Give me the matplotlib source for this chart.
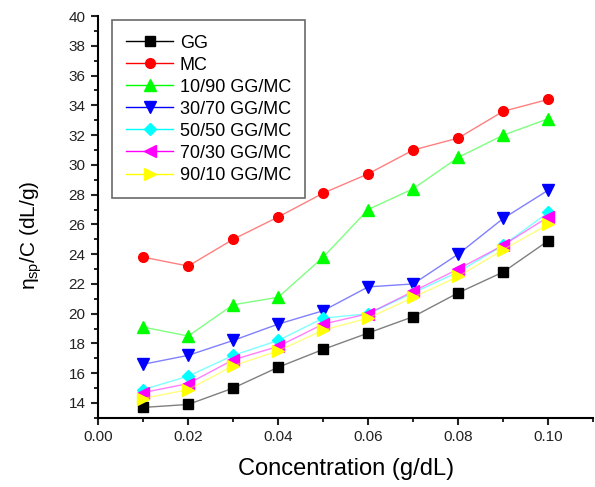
import numpy as np
import matplotlib
matplotlib.use("Agg")
import matplotlib.pyplot as plt
from matplotlib.ticker import MultipleLocator

plt.rcParams['font.family'] = ['Liberation Sans', 'DejaVu Sans']
plt.rcParams['mathtext.fontset'] = 'custom'
plt.rcParams['mathtext.rm'] = 'Liberation Sans'
plt.rcParams['mathtext.it'] = 'Liberation Sans'

# concentracion y viscosidad reducida
conc = [0.01, 0.02, 0.03, 0.04, 0.05, 0.06, 0.07, 0.08, 0.09, 0.10]
gg = [13.7, 13.9, 15.0, 16.4, 17.6, 18.7, 19.8, 21.4, 22.8, 24.9]
mc = [23.8, 23.2, 25.0, 26.5, 28.1, 29.4, 31.0, 31.8, 33.6, 34.4]
m10_90 = [19.1, 18.5, 20.6, 21.1, 23.8, 27.0, 28.4, 30.5, 32.0, 33.1]
m30_70 = [16.6, 17.2, 18.2, 19.3, 20.2, 21.8, 22.0, 24.0, 26.4, 28.3]
m50_50 = [14.9, 15.8, 17.2, 18.2, 19.7, 20.0, 21.4, 22.8, 24.6, 26.8]
m70_30 = [14.7, 15.3, 16.9, 17.8, 19.3, 20.0, 21.5, 23.0, 24.6, 26.5]
m90_10 = [14.3, 14.9, 16.5, 17.5, 18.9, 19.7, 21.1, 22.5, 24.3, 26.0]

series = [
    (gg, "GG", "#000000", "s", 7),
    (mc, "MC", "#ff0000", "o", 7),
    (m10_90, "10/90 GG/MC", "#00ff00", "^", 8),
    (m30_70, "30/70 GG/MC", "#0000ff", "v", 8),
    (m50_50, "50/50 GG/MC", "#00ffff", "D", 6),
    (m70_30, "70/30 GG/MC", "#ff00ff", "<", 8),
    (m90_10, "90/10 GG/MC", "#ffff00", ">", 8),
]

fig = plt.figure(figsize=(5.95, 4.87), dpi=100)
ax = fig.add_axes([0.165, 0.142, 0.832, 0.825])

for vals, name, col, mk, ms in series:
    ax.plot(conc, vals, color=matplotlib.colors.to_rgba(col, 0.5), lw=1.0,
            marker=mk, markersize=ms, markerfacecolor=col, markeredgecolor=col,
            label=name)

ax.set_xlim(0, 0.11)
ax.set_ylim(13, 40)
ax.xaxis.set_minor_locator(MultipleLocator(0.01))
ax.yaxis.set_minor_locator(MultipleLocator(1))
ax.set_xticks(np.arange(0, 0.101, 0.02))
ax.set_xticklabels(["0.00", "0.02", "0.04", "0.06", "0.08", "0.10"])
ax.set_yticks(range(14, 41, 2))

for s in ["top", "right"]:
    ax.spines[s].set_visible(False)
for s in ["left", "bottom"]:
    ax.spines[s].set_linewidth(1.5)
ax.tick_params(which="major", direction="out", length=5, width=1.5,
               labelsize=11, colors="#222222", pad=4)
ax.tick_params(which="minor", direction="out", length=3, width=1.2)

ax.set_xlabel("Concentration (g/dL)", fontsize=17, labelpad=10)
ax.set_ylabel(r"$\eta_{sp}$/C (dL/g)", fontsize=15)
ax.yaxis.set_label_coords(-0.11, 0.455)

leg = ax.legend(loc="upper left", bbox_to_anchor=(0.028, 0.99), fontsize=13,
                frameon=True, fancybox=False, edgecolor="#444444",
                handlelength=2.6, labelspacing=0.28, borderpad=0.8,
                handletextpad=0.35, borderaxespad=0.0)
leg.get_frame().set_linewidth(1.2)
for h in leg.get_lines():
    h.set_alpha(1.0)

fig.savefig("out.png", dpi=100)
